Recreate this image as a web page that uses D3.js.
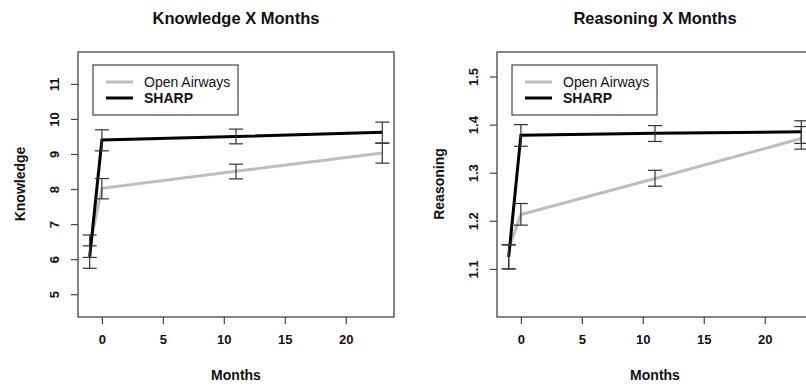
<!DOCTYPE html>
<html>
<head>
<meta charset="utf-8">
<script src="https://cdn.jsdelivr.net/npm/d3@7"></script>
<style>
  body { margin: 0; background: #fff; }
  text { font-family: "Liberation Sans", Arial, sans-serif; fill: #111; }
</style>
</head>
<body>
<div id="chart"></div>
<script>
// time points (months)
var months = [-1, 0, 11, 23];

// Knowledge panel
var knowOpen = [6.37, 8.02, 8.51, 9.03];
var knowOpenLo = [6.05, 7.72, 8.29, 8.74];
var knowOpenHi = [6.69, 8.30, 8.71, 9.31];
var knowSharp = [6.07, 9.40, 9.50, 9.62];
var knowSharpLo = [5.74, 9.09, 9.29, 9.31];
var knowSharpHi = [6.38, 9.69, 9.71, 9.91];
var knowTicks = [5, 6, 7, 8, 9, 10, 11];

// Reasoning panel
var reasOpen = [1.142, 1.213, 1.288, 1.371];
var reasOpenLo = [1.100, 1.191, 1.272, 1.349];
var reasOpenHi = [1.150, 1.236, 1.305, 1.396];
var reasSharp = [1.125, 1.378, 1.382, 1.385];
var reasSharpLo = [1.100, 1.355, 1.365, 1.361];
var reasSharpHi = [1.150, 1.400, 1.398, 1.408];
var reasTicks = [1.1, 1.2, 1.3, 1.4, 1.5];

var monthTicks = [0, 5, 10, 15, 20];
var seriesNames = ["Open Airways", "SHARP"];

var svg = d3.select("#chart").append("svg")
    .attr("width", 806)
    .attr("height", 391);

function drawPanel(p) {
    var x = d3.scaleLinear().domain([-1.96, 23.96]).range([p.left, p.left + 316]);
    var y = d3.scaleLinear().domain(p.ydomain).range([317, 52]);
    var g = svg.append("g");

    //Title
    g.append("text")
        .attr("x", p.left + 158)
        .attr("y", 24)
        .attr("text-anchor", "middle")
        .style("font-size", "16.5px")
        .style("font-weight", "bold")
        .text(p.title);

    //Axes
    var xAxis = d3.axisBottom(x).tickValues(monthTicks).tickSize(7).tickPadding(11);
    var gx = g.append("g").attr("transform", "translate(0,317)").call(xAxis);
    gx.select(".domain").remove();
    gx.selectAll("line").attr("stroke", "#444").attr("stroke-width", 1.2);
    gx.selectAll("text")
        .style("font-size", "13px").style("font-weight", "bold")
        .style("font-family", "Liberation Sans, Arial, sans-serif");

    var yAxis = d3.axisLeft(y).tickValues(p.yticks).tickSize(7).tickFormat(p.fmt);
    var gy = g.append("g").attr("transform", "translate(" + p.left + ",0)").call(yAxis);
    gy.select(".domain").remove();
    gy.selectAll("line").attr("stroke", "#444").attr("stroke-width", 1.2);
    gy.selectAll("text")
        .attr("x", null).attr("dy", null)
        .attr("transform", "translate(-24,0) rotate(-90)")
        .attr("text-anchor", "middle")
        .attr("dominant-baseline", "central")
        .style("font-size", "13px").style("font-weight", "bold")
        .style("font-family", "Liberation Sans, Arial, sans-serif");

    //Box
    g.append("rect")
        .attr("x", p.left).attr("y", 52)
        .attr("width", 316).attr("height", 265)
        .attr("fill", "none").attr("stroke", "#444").attr("stroke-width", 1.3);

    //Axis labels
    g.append("text")
        .attr("x", p.left + 158).attr("y", 380)
        .attr("text-anchor", "middle")
        .style("font-size", "14px").style("font-weight", "bold")
        .text("Months");
    g.append("text")
        .attr("transform", "translate(" + (p.left - 53) + ",184) rotate(-90)")
        .attr("text-anchor", "middle")
        .style("font-size", "14px").style("font-weight", "bold")
        .text(p.ylabel);

    var line = d3.line()
        .x(function (d) { return x(d[0]); })
        .y(function (d) { return y(d[1]); });

    var series = [
        { vals: p.open, lo: p.openLo, hi: p.openHi, color: "#bdbdbd" },
        { vals: p.sharp, lo: p.sharpLo, hi: p.sharpHi, color: "#000" }
    ];

    series.forEach(function (s) {
        g.append("path")
            .datum(d3.zip(months, s.vals))
            .attr("d", line)
            .attr("fill", "none")
            .attr("stroke", s.color)
            .attr("stroke-width", 3);
    });

    //Error bars
    series.forEach(function (s) {
        var bars = g.selectAll(null)
            .data(d3.zip(months, s.lo, s.hi))
            .enter().append("g")
            .attr("stroke", "#333").attr("stroke-width", 1.2);
        bars.append("line")
            .attr("x1", function (d) { return x(d[0]); })
            .attr("x2", function (d) { return x(d[0]); })
            .attr("y1", function (d) { return y(d[1]); })
            .attr("y2", function (d) { return y(d[2]); });
        bars.append("line")
            .attr("x1", function (d) { return x(d[0]) - 7; })
            .attr("x2", function (d) { return x(d[0]) + 7; })
            .attr("y1", function (d) { return y(d[1]); })
            .attr("y2", function (d) { return y(d[1]); });
        bars.append("line")
            .attr("x1", function (d) { return x(d[0]) - 7; })
            .attr("x2", function (d) { return x(d[0]) + 7; })
            .attr("y1", function (d) { return y(d[2]); })
            .attr("y2", function (d) { return y(d[2]); });
    });

    //Legend
    var lx = p.left + 15, ly = 65;
    g.append("rect")
        .attr("x", lx).attr("y", ly)
        .attr("width", 145).attr("height", 50)
        .attr("fill", "#fff").attr("stroke", "#444").attr("stroke-width", 1.2);
    seriesNames.forEach(function (name, i) {
        var yy = ly + 17 + i * 16;
        g.append("line")
            .attr("x1", lx + 13).attr("x2", lx + 40)
            .attr("y1", yy).attr("y2", yy)
            .attr("stroke", series[i].color).attr("stroke-width", 3);
        g.append("text")
            .attr("x", lx + 51).attr("y", yy)
            .attr("dominant-baseline", "central")
            .style("font-size", "14px")
            .style("font-weight", i === 1 ? "bold" : "normal")
            .text(name);
    });
}

drawPanel({
    left: 78, title: "Knowledge X Months", ylabel: "Knowledge",
    ydomain: [4.35, 11.91], yticks: knowTicks, fmt: d3.format("d"),
    open: knowOpen, openLo: knowOpenLo, openHi: knowOpenHi,
    sharp: knowSharp, sharpLo: knowSharpLo, sharpHi: knowSharpHi
});

drawPanel({
    left: 497, title: "Reasoning X Months", ylabel: "Reasoning",
    ydomain: [1.0, 1.551], yticks: reasTicks, fmt: d3.format(".1f"),
    open: reasOpen, openLo: reasOpenLo, openHi: reasOpenHi,
    sharp: reasSharp, sharpLo: reasSharpLo, sharpHi: reasSharpHi
});
</script>
</body>
</html>
